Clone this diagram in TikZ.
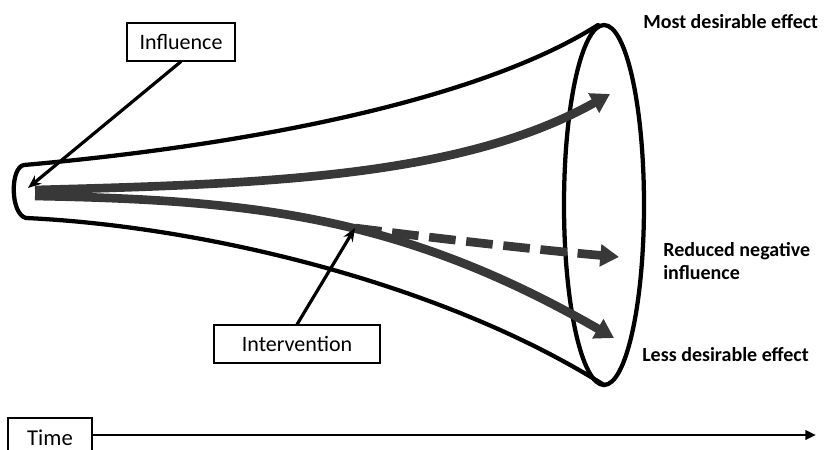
\documentclass[tikz,border=0pt]{standalone}
\usepackage{fontspec}
\setmainfont{Carlito}
\usetikzlibrary{arrows.meta,shapes.geometric}
\definecolor{arrgray}{HTML}{383838}
\tikzset{
  pen/.style={draw=black, line width=3.2pt, line cap=round, line join=round},
  thick arrow/.style={draw=arrgray, line width=6.5pt, -{Triangle[length=14pt,width=16pt]}},
  labelbox/.style={draw=black, line width=1.3pt, fill=white, font=\fontsize{16.5}{19}\selectfont, inner sep=0pt, minimum height=28pt},
  outtext/.style={font=\fontsize{15}{17}\selectfont\bfseries, anchor=west, align=left, inner sep=0pt},
  pointer/.style={draw=black, line width=2.4pt, -{Stealth[length=10pt,width=8pt]}}
}
\begin{document}
\begin{tikzpicture}[x=0.75pt,y=-0.75pt]
\clip (0,0) rectangle (829,450);
\fill[white] (0,0) rectangle (829,450);
% funnel outline
\coordinate (ctop) at (598,25);
\coordinate (cbot) at (604,385);
\draw[pen] (ctop) .. controls (480,100) and (250,145) .. (24,165)
  .. controls (10,167) and (10,214) .. (26,218)
  .. controls (200,226) and (440,282) .. (cbot);
\node[pen, ellipse, draw, minimum width=60pt, minimum height=270pt, inner sep=0pt] (ell) at (604,205) {};
% arrows
\coordinate (s1) at (35,190);
\coordinate (s2) at (35,196);
\coordinate (e1) at (610,94);
\coordinate (e2) at (614,338);
\coordinate (dsplit) at (355,228);
\coordinate (e3) at (619,257);
\draw[thick arrow] (s1) .. controls (260,184) and (460,178) .. (e1);
\draw[thick arrow] (s2) .. controls (250,200) and (400,215) .. (e2);
\draw[thick arrow, dash pattern=on 20pt off 8pt] (dsplit) .. controls (450,240) and (540,250) .. (e3);
% label boxes
\node[labelbox, minimum width=81pt] (infl) at (181,42) {Influence};
\node[labelbox, minimum width=124pt] (interv) at (297,344) {Intervention};
\draw[pointer] (infl.south) -- (28,188);
\draw[pointer] (interv.north) -- (dsplit);
% outcome texts
\node[outtext] (most) at (643,22) {Most desirable effect};
\node[outtext] (reduced) at (663,261) {Reduced negative\\influence};
\node[outtext] (less) at (642,355) {Less desirable effect};
% time axis
\node[font=\fontsize{17}{19}\selectfont, inner sep=0pt] (time) at (50,438) {Time};
\draw[line width=1.3pt] (8,460) -- (8,418) -- (92,418) -- (92,460);
\coordinate (tstart) at (92,435);
\coordinate (tend) at (816,435);
\draw[line width=2.2pt, -{Triangle[length=8pt,width=7pt]}] (tstart) -- (tend);
\end{tikzpicture}
\end{document}
